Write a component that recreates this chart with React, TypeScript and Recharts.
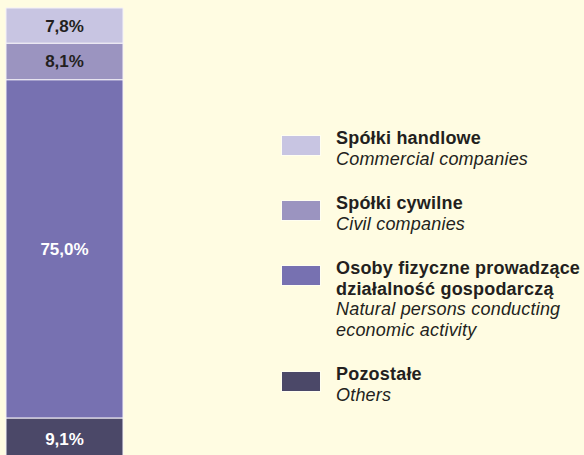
import { BarChart, Bar, XAxis, YAxis, LabelList, Legend } from "recharts";

// top-to-bottom order as in the legend
const LABELS_PL = [
  ["Spółki handlowe"],
  ["Spółki cywilne"],
  ["Osoby fizyczne prowadzące", "działalność gospodarczą"],
  ["Pozostałe"],
];
const LABELS_EN = [
  ["Commercial companies"],
  ["Civil companies"],
  ["Natural persons conducting", "economic activity"],
  ["Others"],
];
const SHARES = [7.8, 8.1, 75.0, 9.1];
const KEYS = ["handlowe", "cywilne", "osoby", "pozostale"];
const COLORS = ["#c8c5e2", "#9b94c0", "#7771b1", "#4b4868"];
const LABEL_COLORS = ["#231f20", "#231f20", "#ffffff", "#ffffff"];

const row: Record<string, number | string> = { name: "2023" };
KEYS.forEach((k, i) => {
  row[k] = SHARES[i];
});
const DATA = [row];

// Recharts stacks from the bottom up, so draw in reverse order
const STACK = KEYS.map((k, i) => i).reverse();

const fmt = (v: number) => v.toFixed(1).replace(".", ",") + "%";

function LegendBox() {
  return (
    <div style={{ fontFamily: "'Liberation Sans', Arial, sans-serif", fontSize: 18, lineHeight: "20.5px", color: "#231f20", letterSpacing: 0.2 }}>
      {KEYS.map((k, i) => (
        <div key={k} style={{ display: "flex", marginBottom: 24 }}>
          <div
            style={{
              width: 38,
              height: 19,
              marginTop: 8,
              marginRight: 16,
              background: COLORS[i],
              flexShrink: 0,
              boxShadow: "0 0 0 1px rgba(255,255,255,0.5)",
            }}
          />
          <div>
            {LABELS_PL[i].map((t) => (
              <div key={t} style={{ fontWeight: "bold" }}>{t}</div>
            ))}
            {LABELS_EN[i].map((t) => (
              <div key={t} style={{ fontStyle: "italic" }}>{t}</div>
            ))}
          </div>
        </div>
      ))}
    </div>
  );
}

export default function App() {
  return (
    <div
      style={{
        position: "absolute",
        left: 0,
        top: 0,
        width: 584,
        height: 455,
        overflow: "hidden",
        background: "#fffce2",
      }}
    >
      <BarChart
        width={584}
        height={459}
        data={DATA}
        margin={{ top: 8, right: 461, bottom: 0, left: 6 }}
        barCategoryGap={0}
      >
        <XAxis dataKey="name" hide />
        <YAxis hide domain={[0, 100]} />
        {STACK.map((i) => (
          <Bar
            key={KEYS[i]}
            dataKey={KEYS[i]}
            stackId="a"
            fill={COLORS[i]}
            stroke="#f4f1f8"
            strokeWidth={1}
            isAnimationActive={false}
          >
            <LabelList
              dataKey={KEYS[i]}
              position="center"
              formatter={(v: number) => fmt(v)}
              fill={LABEL_COLORS[i]}
              style={{ fontFamily: "'Liberation Sans', Arial, sans-serif", fontSize: 17, fontWeight: "bold" }}
            />
          </Bar>
        ))}
        <Legend
          layout="vertical"
          align="center"
          verticalAlign="middle"
          content={() => <LegendBox />}
          wrapperStyle={{ position: "absolute", left: 282, top: 128, width: 302 }}
        />
      </BarChart>
    </div>
  );
}
